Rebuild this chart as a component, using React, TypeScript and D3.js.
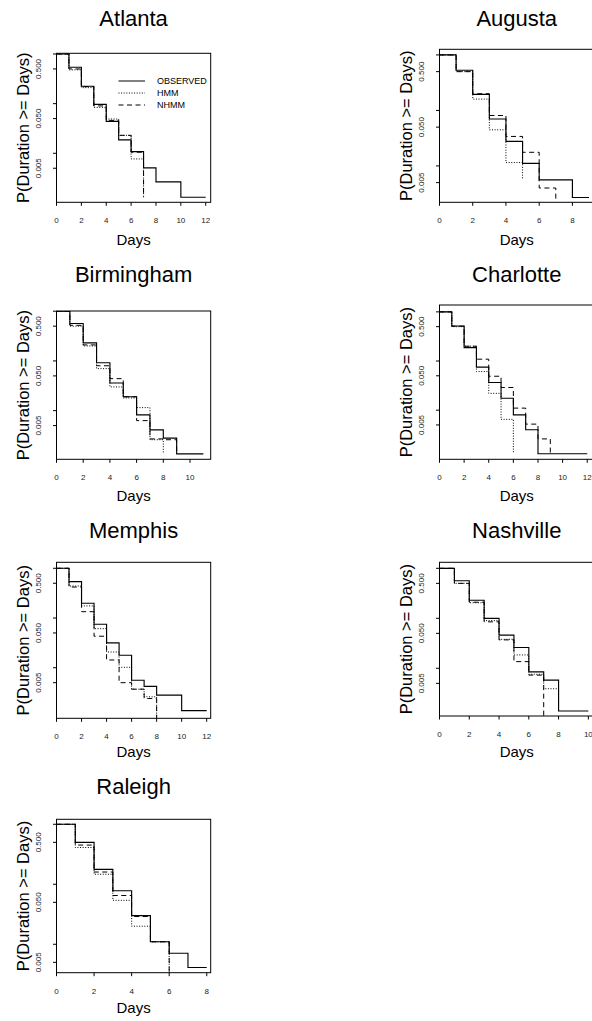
import React from 'react';
import * as d3 from 'd3';

// Spell-duration survival curves, P(Duration >= d), one value per day d = 0, 1, 2, ...
const cities = ['Atlanta', 'Augusta', 'Birmingham', 'Charlotte', 'Memphis', 'Nashville', 'Raleigh'];

const observed = [
  [1, 0.54, 0.224, 0.097, 0.044, 0.0186, 0.0108, 0.0051, 0.00265, 0.00265, 0.0013, 0.0013, 0.0013],
  [1, 0.53, 0.195, 0.07, 0.0276, 0.0111, 0.0056, 0.0056, 0.0027, 0.0027],
  [1, 0.565, 0.23, 0.092, 0.036, 0.019, 0.0082, 0.0041, 0.0028, 0.00135, 0.00135, 0.00135],
  [1, 0.515, 0.187, 0.075, 0.0366, 0.0175, 0.008, 0.004, 0.0013, 0.0013, 0.0013, 0.0013, 0.0013],
  [1, 0.54, 0.198, 0.0747, 0.0315, 0.0178, 0.0056, 0.0042, 0.0028, 0.0028, 0.00137, 0.00137, 0.00137],
  [1, 0.565, 0.23, 0.1, 0.046, 0.026, 0.0085, 0.0058, 0.0014, 0.0014, 0.0014],
  [1, 0.5, 0.177, 0.078, 0.03, 0.011, 0.0071, 0.0041, 0.0041],
];

const hmm = [
  [1, 0.48, 0.21, 0.084, 0.049, 0.023, 0.0077, 0.0013],
  [1, 0.5, 0.16, 0.0447, 0.0115, 0.0056],
  [1, 0.5, 0.2, 0.07, 0.03, 0.018, 0.0115, 0.0026, 0.00135],
  [1, 0.5, 0.2, 0.061, 0.022, 0.0065, 0.0013],
  [1, 0.44, 0.175, 0.061, 0.0207, 0.0102, 0.0037, 0.0026, 0.0005],
  [1, 0.5, 0.205, 0.09, 0.038, 0.0185, 0.0076, 0.0039, 0.0014],
  [1, 0.41, 0.147, 0.054, 0.02, 0.011, 0.001],
];

const nhmm = [
  [1, 0.5, 0.22, 0.09, 0.046, 0.023, 0.0105, 0.0013],
  [1, 0.5, 0.2, 0.081, 0.034, 0.0176, 0.004, 0.0023],
  [1, 0.52, 0.21, 0.08, 0.044, 0.019, 0.0063, 0.0027, 0.0026, 0.00135],
  [1, 0.51, 0.2, 0.109, 0.049, 0.0289, 0.011, 0.0052, 0.0026, 0.0013],
  [1, 0.42, 0.134, 0.043, 0.0143, 0.005, 0.0037, 0.0024, 0.0005],
  [1, 0.5, 0.21, 0.085, 0.037, 0.0136, 0.0073, 0.0005],
  [1, 0.45, 0.16, 0.065, 0.029, 0.011, 0.001],
];

const legendLabels = ['OBSERVED', 'HMM', 'NHMM'];
const yTicks = [0.005, 0.01, 0.05, 0.1, 0.5, 1];
const yTickLabels = ['0.005', '', '0.050', '', '0.500', ''];

// axis limits of each panel (log y)
const xMax = [12.4, 9.3, 11.55, 12.55, 12.32, 10.38, 8.21];
const yMin = [0.00103, 0.00221, 0.00105, 0.001, 0.00096, 0.00111, 0.00336];
const yMax = [1.033, 1.263, 1.01, 1.38, 1.32, 1.32, 1.21];

// plot frames in page pixels
const frames = [
  { x0: 56.5, x1: 210.7, y0: 53.3, y1: 202.3 },
  { x0: 439.5, x1: 594, y0: 49.3, y1: 202.3 },
  { x0: 56.5, x1: 210.7, y0: 311, y1: 459.3 },
  { x0: 439.5, x1: 594, y0: 305, y1: 459.3 },
  { x0: 56.5, x1: 210.7, y0: 562.3, y1: 718.3 },
  { x0: 439.5, x1: 594, y0: 562.3, y1: 716 },
  { x0: 56.5, x1: 210.7, y0: 819.3, y1: 972.7 },
];
const ROW_H = 256;
const dashes = [undefined, '1 1.6', '5 3.5'];
const FONT = '"Liberation Sans", Arial, Helvetica, sans-serif';

function Panel({ i }: { i: number }) {
  const f = frames[i];
  const row = Math.floor(i / 2);
  const x = d3.scaleLinear().domain([0, xMax[i]]).range([f.x0, f.x1]);
  const y = d3.scaleLog().domain([yMin[i], yMax[i]]).range([f.y1, f.y0]);
  const line = d3.line<number>()
    .x((_, k) => x(k))
    .y(v => y(v))
    .curve(d3.curveStepAfter);
  const cx = (f.x0 + f.x1) / 2;
  const cy = (f.y0 + f.y1) / 2;
  const xTicks = d3.range(0, Math.floor(xMax[i]) + 1, 2);
  const series = [observed[i], hmm[i], nhmm[i]];
  const clipId = `clip-${i}`;

  return (
    <g>
      <defs>
        <clipPath id={clipId}>
          <rect x={f.x0} y={f.y0} width={f.x1 - f.x0} height={f.y1 - f.y0} />
        </clipPath>
      </defs>
      <text x={cx} y={row * ROW_H + 25.5} textAnchor="middle" fontSize={22}>{cities[i]}</text>

      <g clipPath={`url(#${clipId})`}>
        {series.map((s, k) => (
          <path key={k} d={line(s) || ''} fill="none" stroke="#000"
            strokeWidth={k === 0 ? 1.15 : 1} strokeDasharray={dashes[k]} />
        ))}
      </g>

      <rect x={f.x0} y={f.y0} width={f.x1 - f.x0} height={f.y1 - f.y0} fill="none" stroke="#000" strokeWidth={1} />

      {xTicks.map(t => (
        <g key={t}>
          <line x1={x(t)} x2={x(t)} y1={f.y1} y2={f.y1 + 3.5} stroke="#000" />
          <text x={x(t)} y={f.y1 + 21} textAnchor="middle" fontSize={8} fill="#222">{t}</text>
        </g>
      ))}
      {yTicks.filter(t => t >= yMin[i] && t <= yMax[i]).map(t => (
        <g key={t}>
          <line x1={f.x0 - 3.5} x2={f.x0} y1={y(t)} y2={y(t)} stroke="#000" />
          <text transform={`translate(${f.x0 - 18},${y(t)}) rotate(-90)`} textAnchor="middle"
            dy="0.35em" fontSize={8} fill="#222">{yTickLabels[yTicks.indexOf(t)]}</text>
        </g>
      ))}

      <text x={cx} y={row * ROW_H + 245} textAnchor="middle" fontSize={15}>Days</text>
      <text transform={`translate(${f.x0 - 33.5},${cy}) rotate(-90)`} textAnchor="middle"
        dy="0.35em" fontSize={16.5}>{'P(Duration >= Days)'}</text>

      {i === 0 && legendLabels.map((lab, k) => (
        <g key={lab}>
          <line x1={118.5} x2={145} y1={81 + k * 12} y2={81 + k * 12} stroke="#000"
            strokeWidth={1} strokeDasharray={dashes[k]} />
          <text x={157} y={81 + k * 12} dy="0.35em" fontSize={9}>{lab}</text>
        </g>
      ))}
    </g>
  );
}

export default function App() {
  return (
    <svg width={592} height={1021} fontFamily={FONT}
      style={{ position: 'absolute', left: 0, top: 0, background: '#fff' }}>
      {cities.map((c, i) => <Panel key={c} i={i} />)}
    </svg>
  );
}
